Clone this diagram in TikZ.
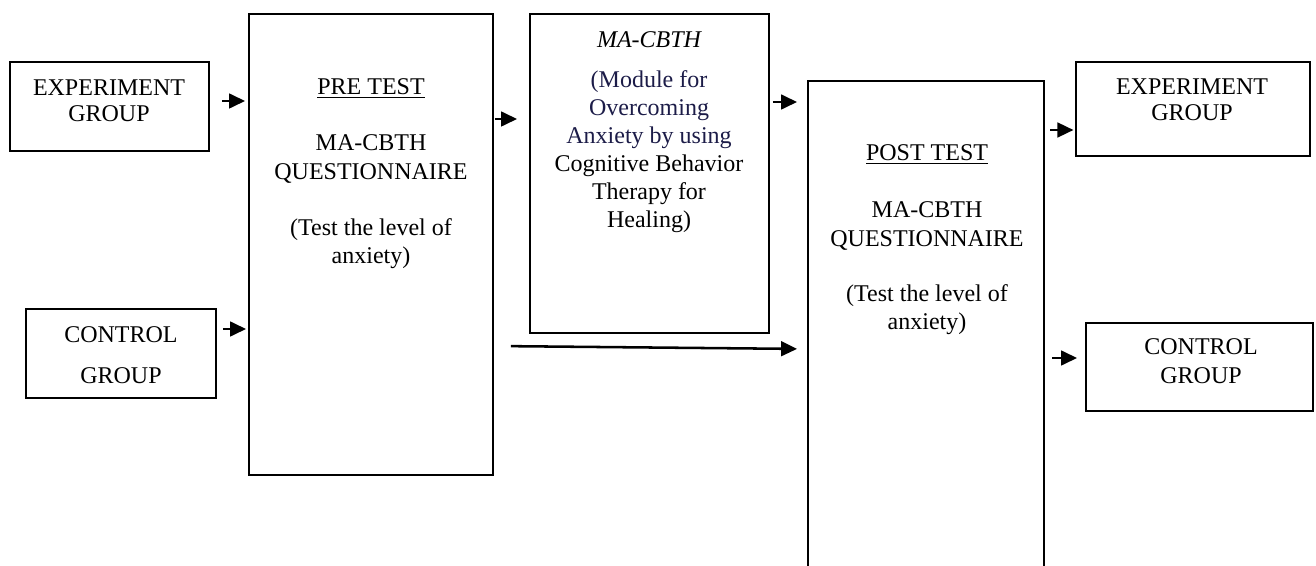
\documentclass[tikz,border=0pt]{standalone}
\usepackage{fontspec}
\setmainfont{Liberation Serif}
\usetikzlibrary{arrows.meta,fit}
\definecolor{navy}{RGB}{28,28,72}
\begin{document}
\begin{tikzpicture}[x=0.75pt,y=-0.75pt,
  box/.style={draw=black, line width=1.4pt, inner sep=0pt},
  txt/.style={font=\fontsize{18}{21}\selectfont, align=center, inner sep=0pt},
  arr/.style={line width=1.9pt, -{Triangle[length=12pt,width=11pt]}},
]
\useasboundingbox (0,0) rectangle (1316,566);
\clip (0,0) rectangle (1316,566);

% boxes
\node[box, fit={(10,62) (209,151)}] (expL) {};
\node[box, fit={(26,309) (216,398)}] (ctrlL) {};
\node[box, fit={(249,14) (493,475)}] (pre) {};
\node[box, fit={(530,14) (769,333)}] (ma) {};
\node[box, fit={(808,81) (1044,640)}] (post) {};
\node[box, fit={(1076,62) (1310,156)}] (expR) {};
\node[box, fit={(1086,323) (1313,411)}] (ctrlR) {};

% texts
\node[txt, font=\fontsize{18}{19.5}\selectfont] (expLt) at (109,101) {EXPERIMENT\\GROUP};
\node[txt, font=\fontsize{18}{30.75}\selectfont] (ctrlLt) at (121,355.5) {CONTROL\\GROUP};

\node[txt, anchor=base] (pret) at (371,95) {\underline{PRE TEST}};
\node[txt, font=\fontsize{18}{21.75}\selectfont] (preq) at (371,159) {MA-CBTH\\QUESTIONNAIRE};
\node[txt] (prel) at (371,243.5) {(Test the level of\\anxiety)};

\node[txt, anchor=base] (mat) at (649,48) {\itshape MA-CBTH};
\node[txt] (mab) at (649,152) {\textcolor{navy}{(Module for}\\\textcolor{navy}{Overcoming}\\\textcolor{navy}{Anxiety by using}\\Cognitive Behavior\\Therapy for\\Healing)};

\node[txt, anchor=base] (postt) at (927,161) {\underline{POST TEST}};
\node[txt, font=\fontsize{18}{21.75}\selectfont] (postq) at (927,226) {MA-CBTH\\QUESTIONNAIRE};
\node[txt] (postl) at (927,310) {(Test the level of\\anxiety)};

\node[txt, font=\fontsize{18}{19.5}\selectfont] (expRt) at (1192,100) {EXPERIMENT\\GROUP};
\node[txt, font=\fontsize{18}{21.75}\selectfont] (ctrlRt) at (1201,361.5) {CONTROL\\GROUP};

% connectors
\draw[arr, shorten <=9pt, shorten >=2.25pt] (expL.east |- 0,101) -- (pre.west |- 0,101);
\draw[arr, shorten <=4.5pt, shorten >=1.5pt] (ctrlL.east |- 0,329) -- (pre.west |- 0,329);
\draw[arr, shorten <=0.75pt, shorten >=9pt] (pre.east |- 0,119) -- (ma.west |- 0,119);
\draw[arr, shorten <=2.25pt, shorten >=7.5pt] (ma.east |- 0,102) -- (post.west |- 0,102);
\draw[arr, shorten <=12.75pt, shorten >=7.5pt] (pre.east |- 0,346) -- (post.west |- 0,349);
\draw[arr, shorten <=4pt, shorten >=1.2pt] (post.east |- 0,130) -- (expR.west |- 0,130);
\draw[arr, shorten <=5.5pt, shorten >=6pt] (post.east |- 0,358) -- (ctrlR.west |- 0,358);
\end{tikzpicture}
\end{document}
